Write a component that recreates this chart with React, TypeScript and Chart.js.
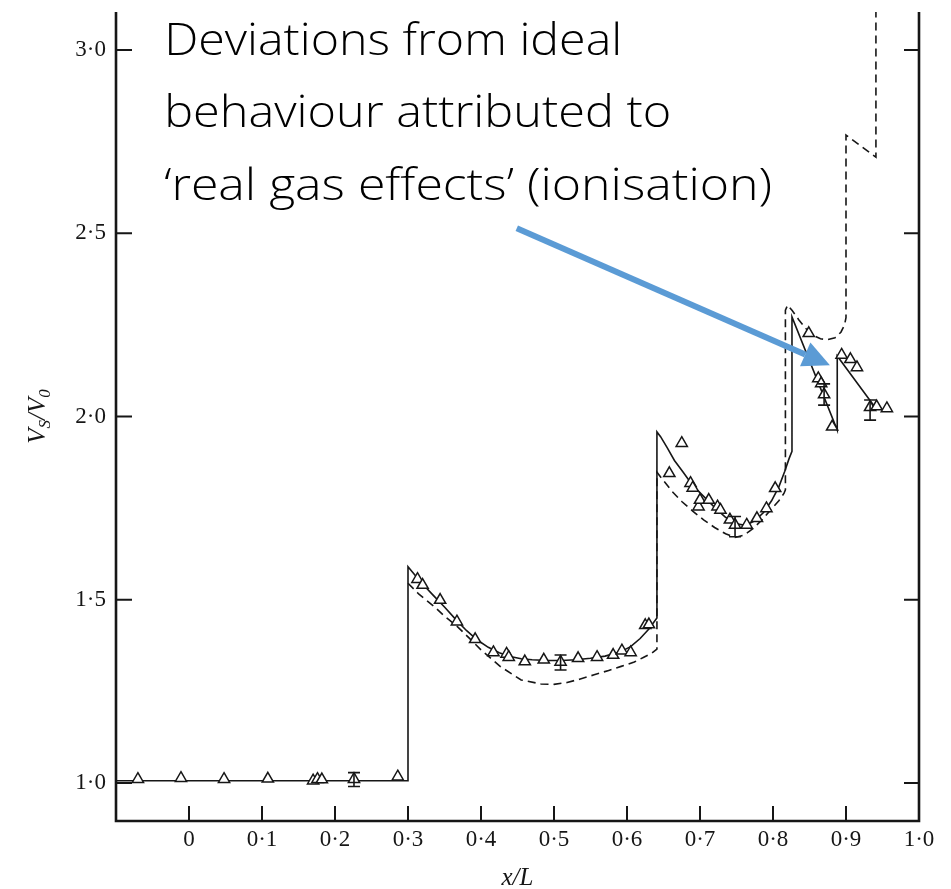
import React, { useEffect, useRef } from 'react';
import { Chart, registerables } from 'chart.js';

Chart.register(...registerables);

// Axis tick positions
const xTickValues = [-0.1, 0, 0.1, 0.2, 0.3, 0.4, 0.5, 0.6, 0.7, 0.8, 0.9, 1.0];
const yTickValues = [1.0, 1.5, 2.0, 2.5, 3.0];

// Theory including real-gas effects (solid line)
const solidX = [
  -0.1, 0.3, 0.3,
  0.31, 0.32, 0.335, 0.35, 0.365, 0.38, 0.395, 0.41, 0.425, 0.44, 0.455, 0.47, 0.49, 0.51, 0.53, 0.55, 0.57, 0.59, 0.605, 0.618, 0.63, 0.641,
  0.641, 0.646, 0.655, 0.665, 0.677, 0.69, 0.705, 0.72, 0.735, 0.75, 0.762, 0.775, 0.787, 0.798, 0.808, 0.816, 0.822, 0.826,
  0.826, 0.888, 0.888, 0.938,
];
const solidY = [
  1.006, 1.006, 1.59,
  1.566, 1.543, 1.511, 1.48, 1.447, 1.416, 1.39, 1.37, 1.355, 1.345, 1.339, 1.336, 1.334, 1.334, 1.336, 1.34, 1.346, 1.357, 1.372, 1.394, 1.42, 1.45,
  1.958, 1.945, 1.915, 1.88, 1.848, 1.812, 1.782, 1.752, 1.725, 1.707, 1.703, 1.715, 1.738, 1.77, 1.808, 1.85, 1.885, 1.905,
  2.272, 1.963, 2.165, 2.03,
];

// Ideal-gas theory (dashed line)
const idealX = [
  0.3, 0.315, 0.336, 0.35, 0.368, 0.385, 0.4, 0.427, 0.455, 0.482, 0.5, 0.518, 0.535, 0.555, 0.575, 0.592, 0.61, 0.623, 0.634, 0.641,
  0.641, 0.65, 0.662, 0.675, 0.69, 0.705, 0.72, 0.735, 0.748, 0.76, 0.772, 0.785, 0.798, 0.808, 0.815, 0.817,
  0.817, 0.82, 0.826, 0.835, 0.845, 0.855, 0.865, 0.875, 0.885, 0.893, 0.898, 0.9,
  0.9, 0.941, 0.941,
];
const idealY = [
  1.545, 1.515, 1.481, 1.455, 1.426, 1.393, 1.363, 1.317, 1.281, 1.27, 1.269, 1.274, 1.283, 1.295, 1.307, 1.318, 1.33, 1.343, 1.354, 1.365,
  1.848, 1.825, 1.795, 1.768, 1.742, 1.718, 1.697, 1.68, 1.67, 1.676, 1.693, 1.718, 1.748, 1.77, 1.79, 1.8,
  2.29, 2.304, 2.29, 2.265, 2.24, 2.222, 2.212, 2.21, 2.215, 2.23, 2.25, 2.27,
  2.768, 2.708, 3.104,
];

// Measured shock speeds (triangles)
const measuredX = [
  -0.07, -0.011, 0.048, 0.108, 0.17, 0.176, 0.182, 0.226, 0.286,
  0.313, 0.32, 0.344, 0.367, 0.392, 0.417, 0.435, 0.438, 0.46, 0.486, 0.509, 0.533, 0.559, 0.581, 0.593, 0.605, 0.625, 0.63,
  0.658, 0.675, 0.687, 0.69, 0.698, 0.7, 0.712, 0.724, 0.728, 0.741, 0.748, 0.764, 0.778, 0.791, 0.803,
  0.849, 0.862, 0.866, 0.87, 0.881,
  0.894, 0.906, 0.915, 0.933, 0.942, 0.956,
];
const measuredY = [
  1.01, 1.013, 1.01, 1.011, 1.006, 1.01, 1.009, 1.01, 1.017,
  1.556, 1.54, 1.499, 1.44, 1.392, 1.356, 1.352, 1.343, 1.331, 1.336, 1.33, 1.34, 1.343, 1.349, 1.361, 1.356, 1.43, 1.432,
  1.845, 1.927, 1.818, 1.805, 1.754, 1.772, 1.772, 1.754, 1.745, 1.718, 1.704, 1.704, 1.722, 1.749, 1.804,
  2.227, 2.104, 2.09, 2.06, 1.972,
  2.168, 2.156, 2.134, 2.025, 2.027, 2.022,
];

// Error bars on selected measurements
const errorX = [0.226, 0.509, 0.748, 0.87, 0.933];
const errorLow = [0.99, 1.308, 1.672, 2.031, 1.99];
const errorHigh = [1.028, 1.349, 1.727, 2.089, 2.045];

// Annotation
const noteLines = ['Deviations from ideal', 'behaviour attributed to', '\u2018real gas effects\u2019 (ionisation)'];
const noteX = -0.034;
const noteBaseY = [2.987, 2.79, 2.592];
const arrowFrom = [0.449, 2.514];
const arrowTo = [0.878, 2.14];

const INK = '#161616';
const SERIF = '"Liberation Serif", "Times New Roman", serif';
const NOTE_FONT = '300 44px "Open Sans", "Noto Sans", sans-serif';
const NOTE_WIDTHS = [458, 507, 608];

const fmt = (v: number) => {
  if (v < -0.05) return '';
  if (Math.abs(v) < 1e-9) return '0';
  return v.toFixed(1).replace('.', '\u00b7');
};

const framePlugin = {
  id: 'frame',
  afterDatasetsDraw(chart: any) {
    const { ctx, chartArea: a, scales } = chart;
    const x = scales.x;
    const y = scales.y;
    ctx.save();

    // error bars
    ctx.strokeStyle = INK;
    ctx.lineWidth = 1.6;
    ctx.beginPath();
    errorX.forEach((ex, i) => {
      const px = x.getPixelForValue(ex);
      const lo = y.getPixelForValue(errorLow[i]);
      const hi = y.getPixelForValue(errorHigh[i]);
      ctx.moveTo(px, lo);
      ctx.lineTo(px, hi);
      ctx.moveTo(px - 6, lo);
      ctx.lineTo(px + 6, lo);
      ctx.moveTo(px - 6, hi);
      ctx.lineTo(px + 6, hi);
    });
    ctx.stroke();

    // open-topped frame
    ctx.lineWidth = 2.6;
    ctx.lineJoin = 'miter';
    ctx.beginPath();
    ctx.moveTo(a.left, a.top);
    ctx.lineTo(a.left, a.bottom);
    ctx.lineTo(a.right, a.bottom);
    ctx.lineTo(a.right, a.top);
    ctx.stroke();

    // inward tick marks
    ctx.lineWidth = 2;
    ctx.beginPath();
    xTickValues.forEach((v) => {
      if (v <= x.min + 1e-9 || v >= x.max - 1e-9) return;
      const px = x.getPixelForValue(v);
      ctx.moveTo(px, a.bottom);
      ctx.lineTo(px, a.bottom - 15);
    });
    yTickValues.forEach((v) => {
      const py = y.getPixelForValue(v);
      ctx.moveTo(a.left, py);
      ctx.lineTo(a.left + 16, py);
      ctx.moveTo(a.right, py);
      ctx.lineTo(a.right - 15, py);
    });
    ctx.stroke();

    // axis titles
    ctx.fillStyle = INK;
    ctx.textAlign = 'center';
    ctx.textBaseline = 'alphabetic';
    ctx.font = `italic 25px ${SERIF}`;
    ctx.fillText('x/L', (a.left + a.right) / 2, 885);

    ctx.save();
    ctx.translate(37, (a.top + a.bottom) / 2);
    ctx.rotate(-Math.PI / 2);
    const big = `italic 25px ${SERIF}`;
    const small = `italic 17px ${SERIF}`;
    const parts = [
      { t: 'V', f: big, dy: 0 },
      { t: 'S', f: small, dy: 5 },
      { t: '/', f: big, dy: 0 },
      { t: 'V', f: big, dy: 0 },
      { t: '0', f: small, dy: 5 },
    ];
    let total = 0;
    parts.forEach((p) => {
      ctx.font = p.f;
      total += ctx.measureText(p.t).width;
    });
    let cx = -total / 2;
    ctx.textAlign = 'left';
    parts.forEach((p) => {
      ctx.font = p.f;
      ctx.fillText(p.t, cx, 8 + p.dy);
      cx += ctx.measureText(p.t).width;
    });
    ctx.restore();

    // annotation text
    ctx.fillStyle = '#000';
    ctx.font = NOTE_FONT;
    ctx.textAlign = 'left';
    ctx.textBaseline = 'alphabetic';
    noteLines.forEach((line, i) => {
      const px = x.getPixelForValue(noteX);
      const py = y.getPixelForValue(noteBaseY[i]);
      const w = ctx.measureText(line).width;
      ctx.save();
      ctx.translate(px, py);
      ctx.scale(NOTE_WIDTHS[i] / w, 1);
      ctx.fillText(line, 0, 0);
      ctx.restore();
    });

    // annotation arrow
    const x0 = x.getPixelForValue(arrowFrom[0]);
    const y0 = y.getPixelForValue(arrowFrom[1]);
    const x1 = x.getPixelForValue(arrowTo[0]);
    const y1 = y.getPixelForValue(arrowTo[1]);
    const ang = Math.atan2(y1 - y0, x1 - x0);
    const headLen = 27;
    const headHalf = 13;
    const bx = x1 - headLen * Math.cos(ang);
    const by = y1 - headLen * Math.sin(ang);
    ctx.strokeStyle = '#5B9BD5';
    ctx.fillStyle = '#5B9BD5';
    ctx.lineWidth = 6;
    ctx.lineCap = 'butt';
    ctx.beginPath();
    ctx.moveTo(x0, y0);
    ctx.lineTo(bx, by);
    ctx.stroke();
    ctx.beginPath();
    ctx.moveTo(x1, y1);
    ctx.lineTo(bx + headHalf * Math.sin(ang), by - headHalf * Math.cos(ang));
    ctx.lineTo(bx - headHalf * Math.sin(ang), by + headHalf * Math.cos(ang));
    ctx.closePath();
    ctx.fill();

    ctx.restore();
  },
};

export default function App() {
  const ref = useRef<HTMLCanvasElement>(null);

  useEffect(() => {
    const canvas = ref.current;
    if (!canvas) return;
    const pts = (xs: number[], ys: number[]) => xs.map((v, i) => ({ x: v, y: ys[i] }));
    const chart = new Chart(canvas, {
      type: 'scatter',
      data: {
        datasets: [
          {
            label: 'measured',
            data: pts(measuredX, measuredY),
            pointStyle: 'triangle',
            pointRadius: 6.5,
            pointBackgroundColor: '#ffffff',
            pointBorderColor: INK,
            pointBorderWidth: 1.5,
            showLine: false,
          },
          {
            label: 'real gas',
            data: pts(solidX, solidY),
            showLine: true,
            pointRadius: 0,
            borderColor: INK,
            borderWidth: 1.6,
            tension: 0,
          },
          {
            label: 'ideal gas',
            data: pts(idealX, idealY),
            showLine: true,
            pointRadius: 0,
            borderColor: INK,
            borderWidth: 1.6,
            borderDash: [8, 5],
            tension: 0,
          },
        ],
      },
      options: {
        animation: false,
        responsive: false,
        devicePixelRatio: 1,
        layout: { padding: { top: 12, right: 32, left: 0, bottom: 0 } },
        plugins: { legend: { display: false }, tooltip: { enabled: false } },
        scales: {
          x: {
            type: 'linear',
            min: -0.1,
            max: 1.0,
            afterBuildTicks: (s: any) => {
              s.ticks = xTickValues.map((value) => ({ value }));
            },
            afterFit: (s: any) => {
              s.height = 68;
              s.paddingLeft = 0;
              s.paddingRight = 0;
            },
            grid: { display: false, drawTicks: false },
            border: { display: false },
            ticks: {
              autoSkip: false,
              maxRotation: 0,
              padding: 5,
              color: INK,
              font: { family: SERIF, size: 23 },
              callback: (v: any) => fmt(Number(v)),
            },
          },
          y: {
            type: 'linear',
            min: 0.896,
            max: 3.104,
            afterBuildTicks: (s: any) => {
              s.ticks = yTickValues.map((value) => ({ value }));
            },
            afterFit: (s: any) => {
              s.width = 116;
              s.paddingTop = 0;
              s.paddingBottom = 0;
            },
            grid: { display: false, drawTicks: false },
            border: { display: false },
            ticks: {
              autoSkip: false,
              padding: 10,
              color: INK,
              font: { family: SERIF, size: 23 },
              callback: (v: any) => Number(v).toFixed(1).replace('.', '\u00b7'),
            },
          },
        },
      },
      plugins: [framePlugin],
    });
    return () => chart.destroy();
  }, []);

  return (
    <div style={{ position: 'absolute', left: 0, top: 0, width: 951, height: 889, background: '#ffffff' }}>
      <canvas ref={ref} width={951} height={889} style={{ display: 'block' }} />
    </div>
  );
}
